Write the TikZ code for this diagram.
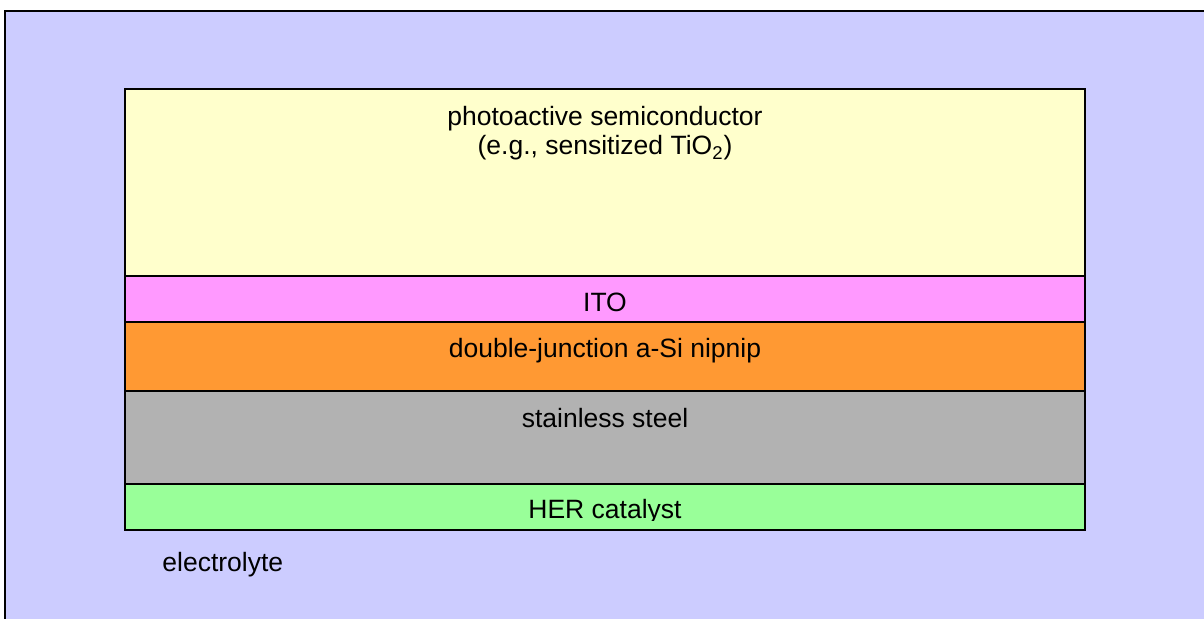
\documentclass[tikz,border=0pt]{standalone}
\usepackage{fontspec}
\setmainfont{Liberation Sans}
\definecolor{bgblue}{HTML}{CCCCFF}
\definecolor{layyellow}{HTML}{FFFFCC}
\definecolor{laypink}{HTML}{FF99FF}
\definecolor{layorange}{HTML}{FF9933}
\definecolor{laygray}{HTML}{B2B2B2}
\definecolor{laygreen}{HTML}{99FF99}
\begin{document}
\begin{tikzpicture}[x=0.5pt,y=-0.5pt,
  layer/.style={draw=black,line width=1.2pt},
  lbl/.style={inner sep=0pt,anchor=base,font=\fontsize{13.25}{15}\selectfont,text=black}]
\useasboundingbox (0,0) rectangle (1204,619);
\fill[white] (0,0) rectangle (1204,619);
\fill[bgblue] (5,11) rectangle (1210,625);
\draw[line width=1.2pt] (5,625) -- (5,11) -- (1210,11);
\draw[layer,fill=layyellow] (125,89) rectangle (1085,276);
\draw[layer,fill=laypink] (125,276) rectangle (1085,322);
\draw[layer,fill=layorange] (125,322) rectangle (1085,391);
\draw[layer,fill=laygray] (125,391) rectangle (1085,484);
\draw[layer,fill=laygreen] (125,484) rectangle (1085,530);
\node[lbl] (photo1) at (605,126) {photoactive semiconductor};
\node[lbl] (photo2) at (605,155) {(e.g., sensitized TiO\textsubscript{2})};
\node[lbl] (ito) at (605,312) {ITO};
\node[lbl] (dj) at (605,358) {double-junction a-Si nipnip};
\node[lbl] (ss) at (605,428) {stainless steel};
\begin{scope}
\clip (125,486) rectangle (1085,521);
\node[lbl] (her) at (605,518) {HER catalyst};
\end{scope}
\node[lbl,anchor=base west] (elec) at (162,571) {electrolyte};
\end{tikzpicture}
\end{document}
